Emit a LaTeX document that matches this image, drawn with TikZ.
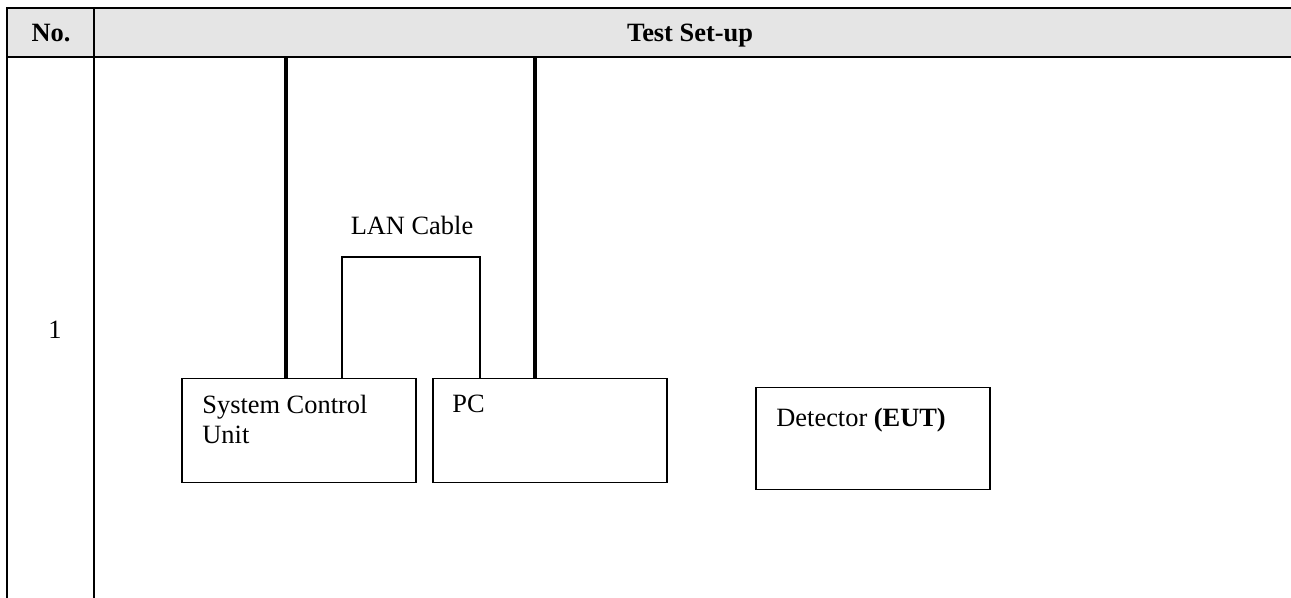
\documentclass[tikz,border=0pt]{standalone}
\usepackage{fontspec}
\setmainfont{Liberation Serif}
\begin{document}
\begin{tikzpicture}[
        x=0.5pt, y=-0.5pt,
        grid/.style={line width=1pt},
        unit/.style={draw, line width=0.75pt, minimum width=117pt, minimum height=52pt, anchor=north west, inner sep=0pt},
        txt/.style={font=\fontsize{13.2}{15}\selectfont, inner sep=0pt},
        power/.style={line width=1.6pt},
        lan/.style={line width=0.6pt}
    ]
    \useasboundingbox (0,0) rectangle (1291,598);
    \clip (0,0) rectangle (1291,598);

    % table frame
    \fill[gray!20] (7,8) rectangle (1300,57);
    \draw[grid] (1300,8) -- (7,8) -- (7,610);
    \draw[grid] (7,57) -- (1300,57);
    \draw[grid] (94,8) -- (94,610);
    \node[txt, font=\fontsize{13.2}{15}\selectfont\bfseries, anchor=base] (no) at (51,42) {No.};
    \node[txt, font=\fontsize{13.2}{15}\selectfont\bfseries, anchor=base] (head) at (690,42) {Test Set-up};
    \node[txt, anchor=base] (row) at (55,339) {1};

    % equipment
    \node[unit] (scu) at (181,378) {};
    \node[unit] (pc) at (432,378) {};
    \node[unit, minimum height=51pt] (det) at (755,387) {};
    \node[txt, anchor=north west, align=left] (scutext) at (202,395) {System Control\\Unit};
    \node[txt, anchor=base west] (pctext) at (452,413) {PC};
    \node[txt, anchor=base west] (dettext) at (776,427) {Detector \textbf{(EUT)}};

    % cables
    \coordinate (mains1) at (286,57);
    \coordinate (mains2) at (535,57);
    \coordinate (lanA) at (342,257);
    \coordinate (lanB) at (480,257);
    \draw[power] (mains1) -- (mains1 |- scu.north);
    \draw[power] (mains2) -- (mains2 |- pc.north);
    \draw[lan] (scu.north -| lanA) -- (lanA) -- (lanB) -- (lanB |- pc.north);
    \node[txt, anchor=base] (lanlabel) at (412,235) {LAN Cable};

\end{tikzpicture}
\end{document}
